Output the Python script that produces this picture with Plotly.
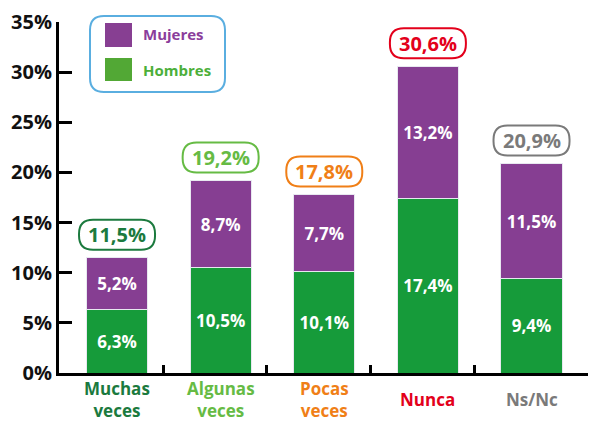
import plotly.graph_objects as go

categories = ["Muchas veces", "Algunas veces", "Pocas veces", "Nunca", "Ns/Nc"]
hombres = [6.3, 10.5, 10.1, 17.4, 9.4]
mujeres = [5.2, 8.7, 7.7, 13.2, 11.5]
totales = [11.5, 19.2, 17.8, 30.6, 20.9]
cat_colors = ["#1b7a3e", "#66bb44", "#f07f17", "#e3001b", "#7a7a7a"]
y_ticks = [0, 5, 10, 15, 20, 25, 30, 35]

GREEN = "#169b3a"
PURPLE = "#863e92"
FONT = "Open Sans"

def fmt(v):
    return f"{v:.1f}".replace(".", ",") + "%"

x = list(range(len(categories)))

fig = go.Figure()
fig.add_trace(go.Bar(x=x, y=hombres, name="Hombres", marker=dict(color=GREEN, line=dict(color="#e8e8f0", width=1)),
                     width=0.59, text=[fmt(v) for v in hombres], textposition="inside",
                     insidetextanchor="middle", textfont=dict(color="white", size=17, family=FONT, weight="bold"),
                     textangle=0))
fig.add_trace(go.Bar(x=x, y=mujeres, name="Mujeres", marker=dict(color=PURPLE, line=dict(color="#e8e8f0", width=1)),
                     width=0.59, text=[fmt(v) for v in mujeres], textposition="inside",
                     insidetextanchor="middle", textfont=dict(color="white", size=17, family=FONT, weight="bold"),
                     textangle=0))

def rrect(x0, y0, x1, y1, r):
    # rounded rectangle path in pixel offsets (y up)
    return (f"M {x0+r},{y0} L {x1-r},{y0} Q {x1},{y0} {x1},{y0+r} L {x1},{y1-r} Q {x1},{y1} {x1-r},{y1} "
            f"L {x0+r},{y1} Q {x0},{y1} {x0},{y1-r} L {x0},{y0+r} Q {x0},{y0} {x0+r},{y0} Z")

shapes = []
annotations = []
for i, (t, c) in enumerate(zip(totales, cat_colors)):
    shapes.append(dict(type="path", xref="x", yref="y", xsizemode="pixel", ysizemode="pixel",
                       xanchor=i, yanchor=t, path=rrect(-38, 8, 38, 38, 14),
                       line=dict(color=c, width=2), fillcolor="white"))
    annotations.append(dict(x=i, y=t, xref="x", yref="y", yshift=23, text=fmt(t), showarrow=False,
                            font=dict(color=c, size=20, family=FONT, weight="bold"), yanchor="middle"))
    annotations.append(dict(x=i, y=0, xref="x", yref="y", yshift=-26, text=categories[i].replace(" ", "<br>"),
                            showarrow=False, font=dict(color=c, size=17, family=FONT, weight="bold"),
                            yanchor="middle"))

# legend box
shapes.append(dict(type="path", xref="paper", yref="paper", xsizemode="pixel", ysizemode="pixel",
                   xanchor=0, yanchor=1, path=rrect(31, -70, 166, 6, 14),
                   line=dict(color="#5aaee0", width=2), fillcolor="white"))
shapes.append(dict(type="rect", xref="paper", yref="paper", xsizemode="pixel", ysizemode="pixel",
                   xanchor=0, yanchor=1, x0=46, x1=73, y0=-25, y1=-1, line=dict(width=0), fillcolor="#873f92"))
shapes.append(dict(type="rect", xref="paper", yref="paper", xsizemode="pixel", ysizemode="pixel",
                   xanchor=0, yanchor=1, x0=46, x1=73, y0=-59, y1=-36, line=dict(width=0), fillcolor="#52a835"))
annotations.append(dict(x=0.155, y=0.966, xref="paper", yref="paper", text="Mujeres", showarrow=False,
                        xanchor="left", yanchor="middle", font=dict(color="#8b3d9b", size=15, family=FONT, weight="bold")))
annotations.append(dict(x=0.155, y=0.863, xref="paper", yref="paper", text="Hombres", showarrow=False,
                        xanchor="left", yanchor="middle", font=dict(color="#4caf3a", size=15, family=FONT, weight="bold")))

fig.update_layout(
    barmode="stack", width=589, height=421, margin=dict(l=59, r=1, t=22, b=48, autoexpand=False),
    plot_bgcolor="white", paper_bgcolor="white", showlegend=False,
    shapes=shapes, annotations=annotations,
    xaxis=dict(range=[-0.56, 4.545], showgrid=False, zeroline=False, showline=True, linecolor="black", linewidth=3,
               showticklabels=False, ticks="", automargin=False,
               minor=dict(tickmode="array", tickvals=[0.445, 1.445, 2.445, 3.445], ticks="inside",
                          ticklen=8, tickwidth=2.5, tickcolor="black", showgrid=False)),
    yaxis=dict(range=[0, 35], tickvals=y_ticks, ticktext=[f"{v}%" for v in y_ticks], showgrid=False, zeroline=False,
               showline=True, linecolor="black", linewidth=3, ticks="inside", ticklen=13, tickwidth=3,
               tickcolor="black", automargin=False, ticklabelstandoff=0,
               tickfont=dict(size=20, family=FONT, color="#111", weight="bold")),
)

fig.write_html("out.html", config={"displayModeBar": False},
               post_script="document.body.style.margin='0';document.body.style.overflow='hidden';")
